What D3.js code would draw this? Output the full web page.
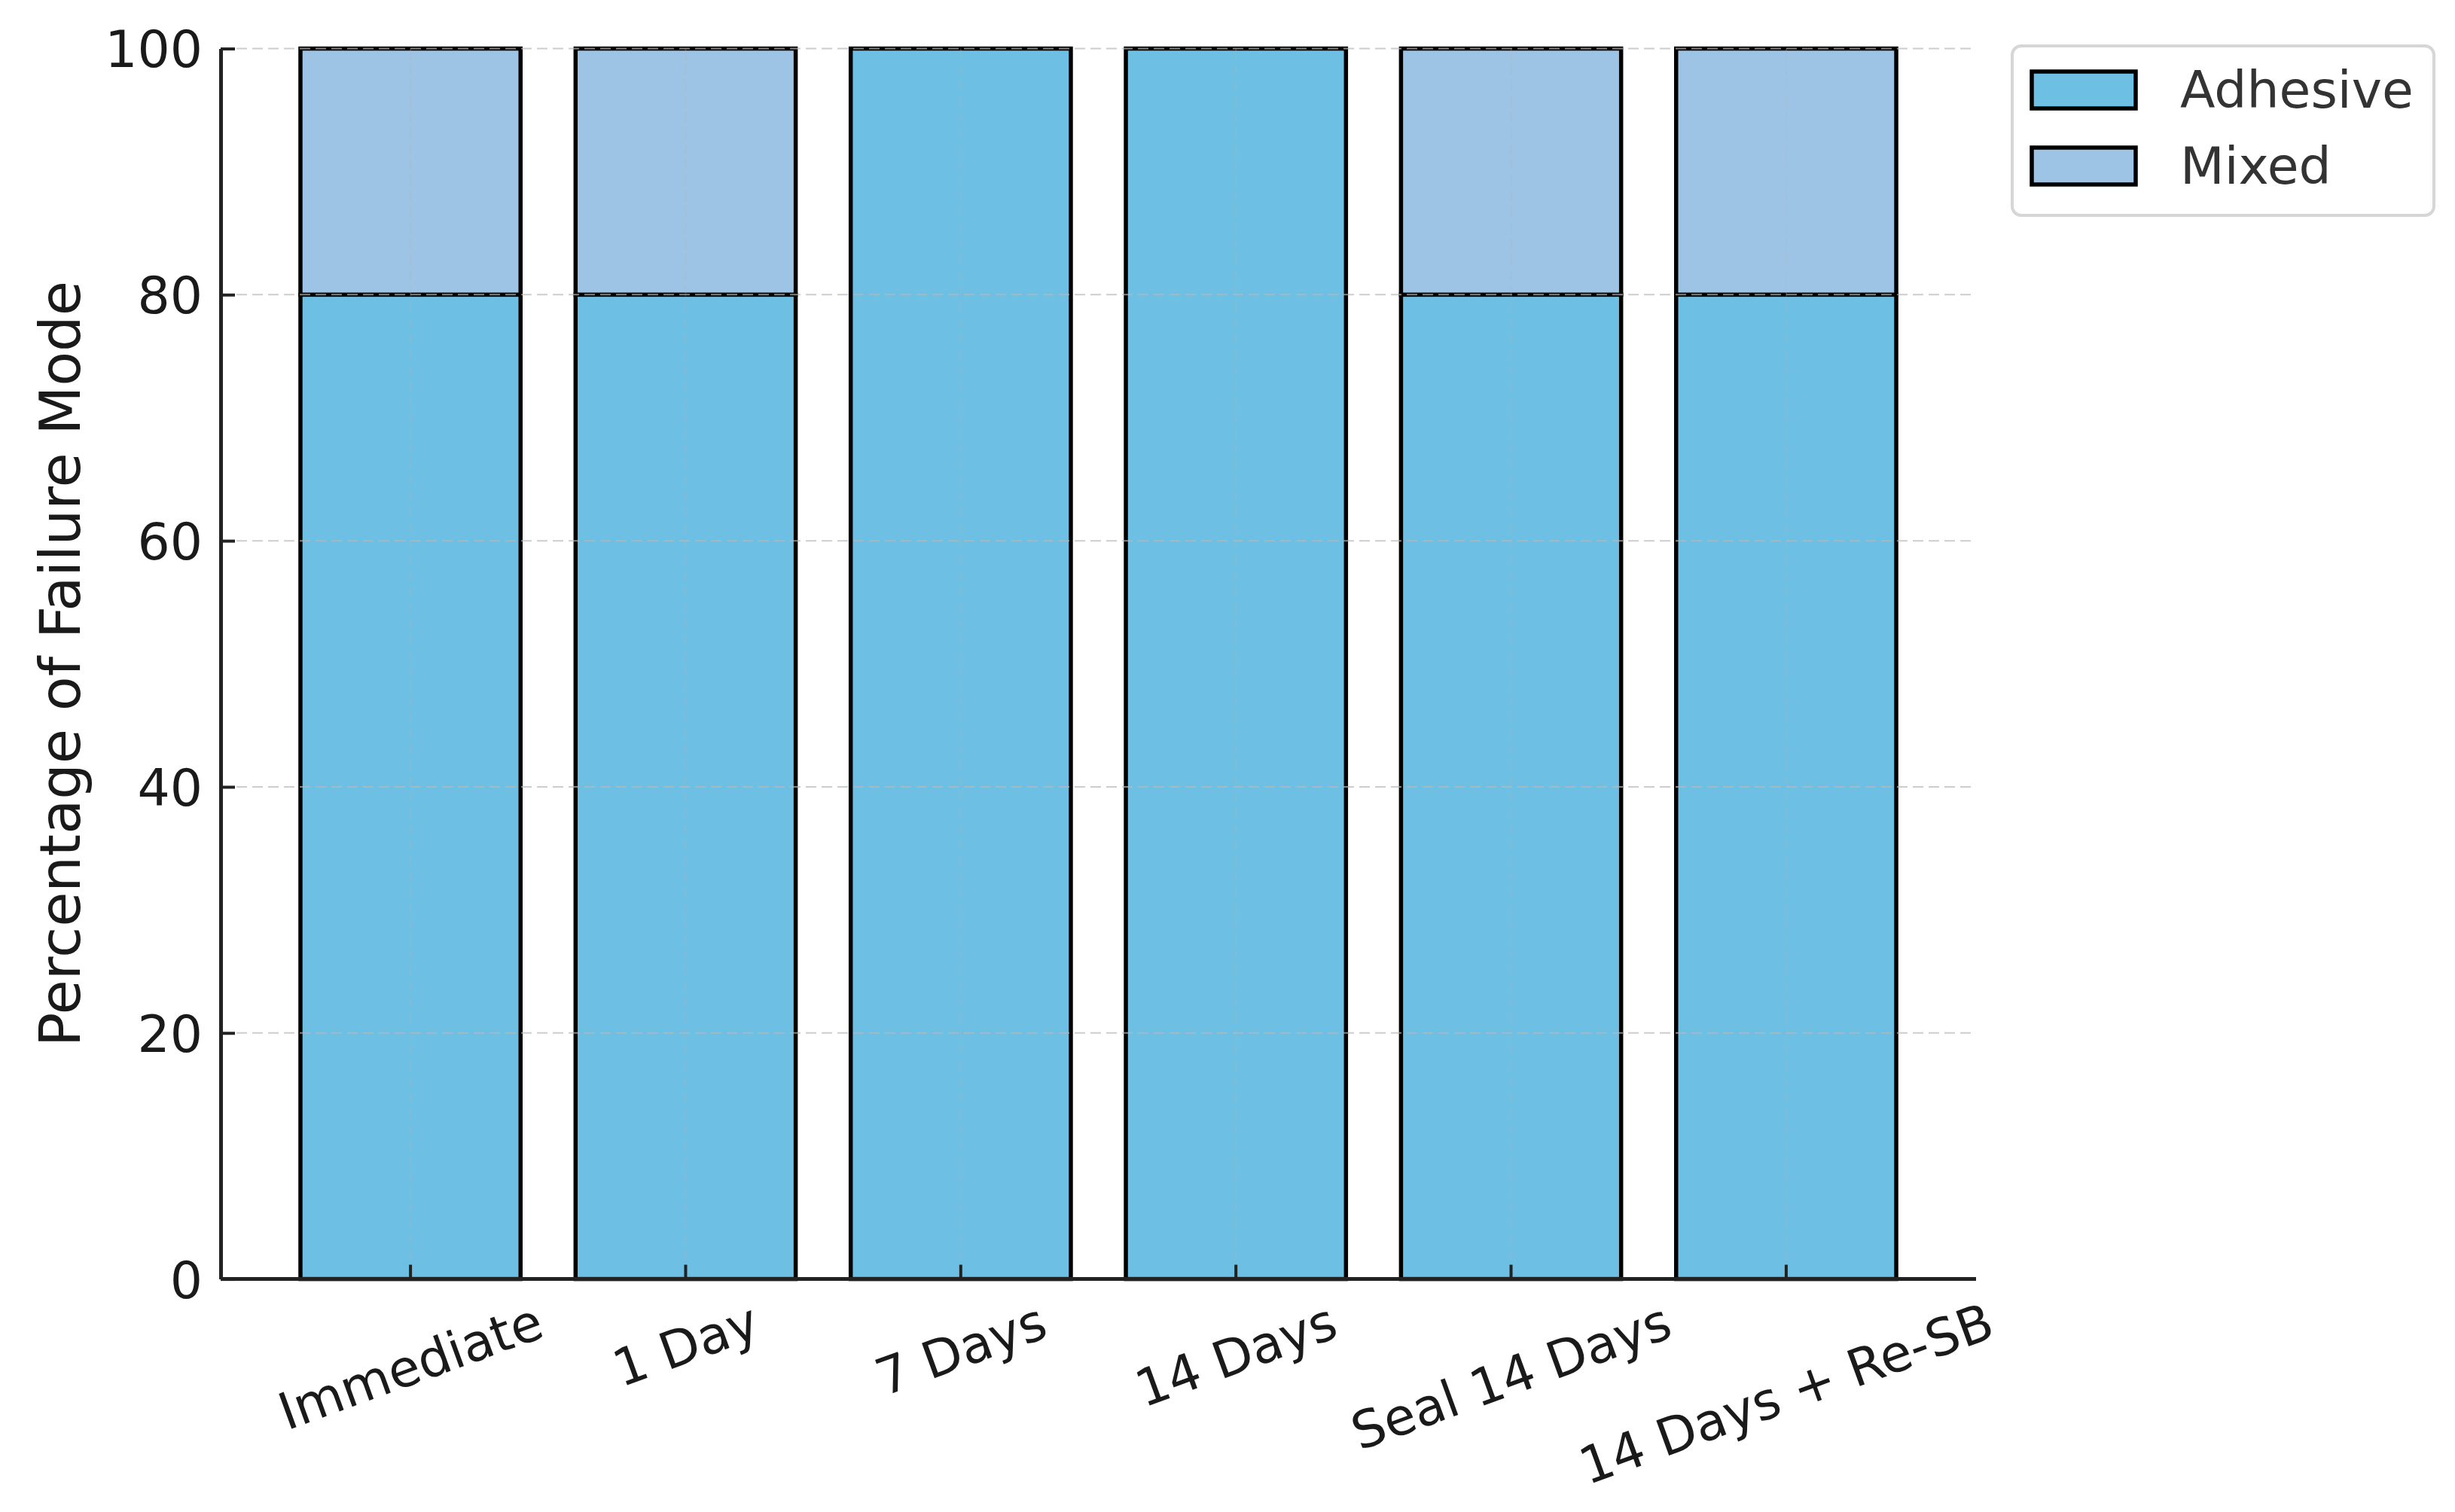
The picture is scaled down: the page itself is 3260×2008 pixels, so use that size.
<!DOCTYPE html>
<html>
<head>
<meta charset="utf-8">
<script src="https://cdn.jsdelivr.net/npm/d3@7"></script>
<style>
  body { margin: 0; background: #fff; }
  text { font-family: "DejaVu Sans", sans-serif; }
</style>
</head>
<body>
<div id="chart-area"></div>
<script>
// data
const categories = ["Immediate", "1 Day", "7 Days", "14 Days", "Seal 14 Days", "14 Days + Re-SB"];
const adhesive = [80, 80, 100, 100, 80, 80];
const mixed = [20, 20, 0, 0, 20, 20];
const seriesNames = ["Adhesive", "Mixed"];
const yTicks = [0, 20, 40, 60, 80, 100];

const colors = { Adhesive: "#6dbfe3", Mixed: "#9dc3e5" };

const W = 3260, H = 2008;
const plotLeft = 293, plotRight = 2624, plotTop = 64.5, plotBottom = 1698.6;
const fontSize = 68;

const svg = d3.select("#chart-area")
    .append("svg")
    .attr("width", W)
    .attr("height", H);

const x = d3.scaleBand()
    .domain(categories)
    .range([plotLeft, plotRight])
    .paddingInner(0.2)
    .paddingOuter(0.29);

const y = d3.scaleLinear()
    .domain([0, 100])
    .range([plotBottom, plotTop]);

// stacked rows
const rows = categories.map((c, i) => ({ cat: c, Adhesive: adhesive[i], Mixed: mixed[i] }));
const stacked = d3.stack().keys(seriesNames)(rows);

svg.append("g")
    .selectAll("g")
    .data(stacked)
    .enter().append("g")
    .attr("fill", d => colors[d.key])
    .selectAll("rect")
    .data(d => d.filter(p => p[1] - p[0] > 0))
    .enter().append("rect")
    .attr("x", d => x(d.data.cat))
    .attr("y", d => y(d[1]))
    .attr("width", x.bandwidth())
    .attr("height", d => y(d[0]) - y(d[1]))
    .attr("stroke", "#000")
    .attr("stroke-width", 5.5);

// grid on top, faint dashed
const grid = svg.append("g")
    .attr("stroke", "#b8b8b8")
    .attr("stroke-width", 2)
    .attr("stroke-dasharray", "14,7")
    .attr("opacity", 0.7);

grid.selectAll("line.h")
    .data(yTicks)
    .enter().append("line")
    .attr("x1", plotLeft).attr("x2", plotRight)
    .attr("y1", d => y(d)).attr("y2", d => y(d));

grid.selectAll("line.v")
    .data(categories)
    .enter().append("line")
    .attr("opacity", 0.35)
    .attr("x1", d => x(d) + x.bandwidth() / 2)
    .attr("x2", d => x(d) + x.bandwidth() / 2)
    .attr("y1", plotTop).attr("y2", plotBottom);

// y axis
const yAxis = svg.append("g")
    .attr("transform", `translate(${plotLeft},0)`)
    .call(d3.axisLeft(y).tickValues(yTicks).tickSizeInner(-19).tickSizeOuter(0).tickPadding(24));

yAxis.select(".domain").attr("stroke", "#222").attr("stroke-width", 5);
yAxis.selectAll(".tick line").attr("stroke", "#222").attr("stroke-width", 4);
yAxis.selectAll(".tick text")
    .attr("font-size", fontSize)
    .attr("fill", "#1a1a1a")
    .attr("dy", "0.36em")
    .style("font-family", "DejaVu Sans");

// x axis
const xAxis = svg.append("g")
    .attr("transform", `translate(0,${plotBottom})`)
    .call(d3.axisBottom(x).tickSizeInner(-19).tickSizeOuter(0).tickPadding(0));

xAxis.select(".domain").attr("stroke", "#222").attr("stroke-width", 5)
    .attr("d", `M${plotLeft},0H${plotRight}`);
xAxis.selectAll(".tick line").attr("stroke", "#222").attr("stroke-width", 4);

const angle = 20 * Math.PI / 180;
xAxis.selectAll(".tick text")
    .attr("font-size", fontSize)
    .attr("fill", "#1a1a1a")
    .style("font-family", "DejaVu Sans")
    .attr("text-anchor", "middle")
    .attr("dy", "0.35em")
    .attr("y", 0)
    .each(function () {
        const t = d3.select(this);
        const w = this.getComputedTextLength();
        const h = fontSize * 1.17;
        const boxH = w * Math.sin(angle) + h * Math.cos(angle);
        const cy = 16 + boxH / 2;
        t.attr("transform", `translate(0,${cy}) rotate(-20)`);
    });

// y label
svg.append("text")
    .attr("transform", `translate(79,${(plotTop + plotBottom) / 2}) rotate(-90)`)
    .attr("text-anchor", "middle")
    .attr("dy", "0.36em")
    .attr("font-size", 75)
    .attr("fill", "#1a1a1a")
    .text("Percentage of Failure Mode");

// legend
const legend = svg.append("g");
legend.append("rect")
    .attr("x", 2672).attr("y", 61)
    .attr("width", 560).attr("height", 225)
    .attr("rx", 12)
    .attr("fill", "#fff")
    .attr("stroke", "#d6d6d6")
    .attr("stroke-width", 4);

const items = legend.selectAll("g.item")
    .data(seriesNames)
    .enter().append("g")
    .attr("transform", (d, i) => `translate(0,${i * 101})`);

items.append("rect")
    .attr("x", 2698).attr("y", 95)
    .attr("width", 138).attr("height", 49)
    .attr("fill", d => colors[d])
    .attr("stroke", "#000")
    .attr("stroke-width", 5.5);

items.append("text")
    .attr("x", 2895).attr("y", 143)
    .attr("font-size", fontSize)
    .attr("fill", "#333")
    .text(d => d);
</script>
</body>
</html>
